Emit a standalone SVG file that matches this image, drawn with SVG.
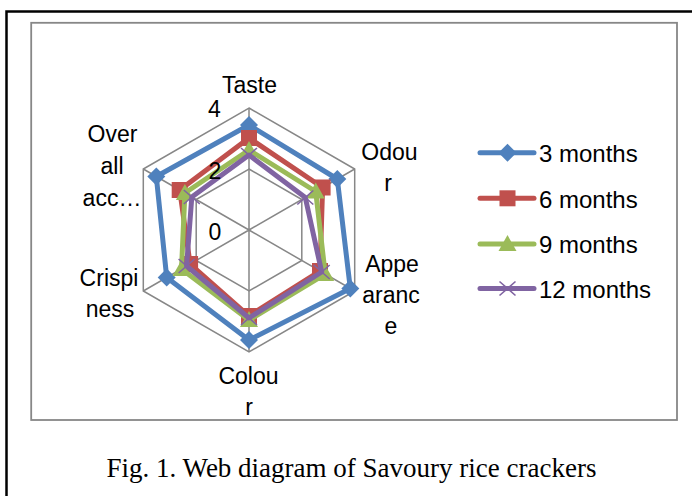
<svg xmlns="http://www.w3.org/2000/svg" xmlns:xlink="http://www.w3.org/1999/xlink" width="692" height="496" viewBox="0 0 692 496">
<style>
.lbl{font-family:"Liberation Sans",Arial,sans-serif;font-size:23px;fill:#000;text-anchor:middle}
.leg{font-family:"Liberation Sans",Arial,sans-serif;font-size:24px;fill:#000}
.cap{font-family:"Liberation Serif","Times New Roman",serif;font-size:27px;fill:#000;text-anchor:middle}
.grid{fill:none;stroke:#878787;stroke-width:1.5}
.ser{fill:none;stroke-width:5;stroke-linejoin:round;stroke-linecap:round}
.b{stroke:#4F81BD}.r{stroke:#C0504D}.g{stroke:#9BBB59}.p{stroke:#8064A2}
</style>
<defs>
<path id="dia" d="M0,-9 L9,0 L0,9 L-9,0Z" fill="#4F81BD"/>
<rect id="sq" x="-8" y="-8" width="16" height="16" fill="#C0504D"/>
<path id="tri" d="M0,-9 L9,7 L-9,7Z" fill="#9BBB59"/>
<path id="xx" d="M-8,-7 L8,7 M-8,7 L8,-7" stroke="#8064A2" stroke-width="1.6" fill="none"/>
</defs>
<rect width="692" height="496" fill="#fff"/>
<g id="frame">
<path d="M6.5,496 V11.5 H692" fill="none" stroke="#000" stroke-width="2.5"/>
<rect x="31.2" y="22.8" width="645.8" height="397.2" fill="none" stroke="#878787" stroke-width="1.8"/>
</g>
<g id="grid">
<polygon class="grid" points="249,108 354.7,169 354.7,291 249,352 143.3,291 143.3,169"/>
<polygon class="grid" points="249,169 301.8,199.5 301.8,260.5 249,291 196.2,260.5 196.2,199.5"/>
<path class="grid" d="M249,230 L249,108 M249,230 L354.7,169 M249,230 L354.7,291 M249,230 L249,352 M249,230 L143.3,291 M249,230 L143.3,169"/>
</g>
<g id="category-labels">
<text class="lbl" x="249.5" y="93">Taste</text>
<text class="lbl" x="389.5" y="160">Odou</text>
<text class="lbl" x="388" y="191">r</text>
<text class="lbl" x="392" y="272">Appe</text>
<text class="lbl" x="391" y="303">aranc</text>
<text class="lbl" x="391" y="334">e</text>
<text class="lbl" x="248.5" y="384">Colou</text>
<text class="lbl" x="249" y="415">r</text>
<text class="lbl" x="109" y="286">Crispi</text>
<text class="lbl" x="110" y="317">ness</text>
<text class="lbl" x="112.5" y="142">Over</text>
<text class="lbl" x="112" y="174">all</text>
<text class="lbl" x="112" y="206">acc…</text>
</g>
<g id="series-3-months">
<polygon class="ser b" points="249,125 337.3,179 350.3,288.5 249,340 166.7,277.5 156.3,176.5"/>
<use xlink:href="#dia" x="249" y="125"/><use xlink:href="#dia" x="337.3" y="179"/><use xlink:href="#dia" x="350.3" y="288.5"/>
<use xlink:href="#dia" x="249" y="340"/><use xlink:href="#dia" x="166.7" y="277.5"/><use xlink:href="#dia" x="156.3" y="176.5"/>
</g>
<g id="series-6-months">
<polygon class="ser r" points="249,138 322.6,187.5 320,271 249,316 190.1,264 179.7,190"/>
<use xlink:href="#sq" x="249" y="138"/><use xlink:href="#sq" x="322.6" y="187.5"/><use xlink:href="#sq" x="320" y="271"/>
<use xlink:href="#sq" x="249" y="316"/><use xlink:href="#sq" x="190.1" y="264"/><use xlink:href="#sq" x="179.7" y="190"/>
</g>
<g id="series-9-months">
<polygon class="ser g" points="249,150 315.7,191.5 325.2,274 249,320 181.5,269 184.9,193"/>
<use xlink:href="#tri" x="249" y="150"/><use xlink:href="#tri" x="315.7" y="191.5"/><use xlink:href="#tri" x="325.2" y="274"/>
<use xlink:href="#tri" x="249" y="320"/><use xlink:href="#tri" x="181.5" y="269"/><use xlink:href="#tri" x="184.9" y="193"/>
</g>
<g id="series-12-months">
<polygon class="ser p" points="249,155 305.3,197.5 321.7,272 249,318 186.6,266 191.8,197"/>
<use xlink:href="#xx" x="249" y="155"/><use xlink:href="#xx" x="305.3" y="197.5"/><use xlink:href="#xx" x="321.7" y="272"/>
<use xlink:href="#xx" x="249" y="318"/><use xlink:href="#xx" x="186.6" y="266"/><use xlink:href="#xx" x="191.8" y="197"/>
</g>
<g id="value-labels">
<text class="lbl" x="214.5" y="117">4</text>
<text class="lbl" x="215" y="179">2</text>
<text class="lbl" x="215" y="240">0</text>
</g>
<g id="legend">
<g id="leg-3"><line class="ser b" x1="480" y1="152.7" x2="534" y2="152.7"/><use xlink:href="#dia" x="507.5" y="152.7"/><text class="leg" x="539" y="162">3 months</text></g>
<g id="leg-6"><line class="ser r" x1="480" y1="198.3" x2="534" y2="198.3"/><use xlink:href="#sq" x="507.5" y="198.3"/><text class="leg" x="539" y="207.6">6 months</text></g>
<g id="leg-9"><line class="ser g" x1="480" y1="244" x2="534" y2="244"/><use xlink:href="#tri" x="507.5" y="244"/><text class="leg" x="539" y="253">9 months</text></g>
<g id="leg-12"><line class="ser p" x1="480" y1="288.5" x2="534" y2="288.5"/><use xlink:href="#xx" x="507.5" y="288.5"/><text class="leg" x="539" y="297.6">12 months</text></g>
</g>
<text class="cap" x="351.5" y="477">Fig. 1. Web diagram of Savoury rice crackers</text>
</svg>
